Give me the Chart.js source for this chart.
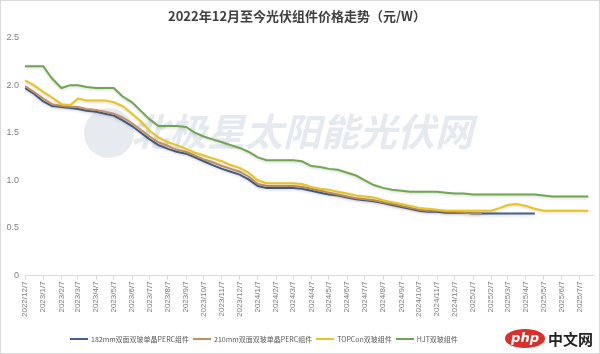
<!DOCTYPE html>
<html>
<head>
<meta charset="utf-8">
<script src="https://cdn.jsdelivr.net/npm/chart.js@4"></script>
<style>
  html, body { margin: 0; padding: 0; background: #fff; }
  #wrap { position: relative; width: 600px; height: 354px; box-sizing: border-box; border: 1px solid #d9d9d9; }
  #legend { position: absolute; left: 69px; top: 333px; display: flex; align-items: center; font: 7px "Noto Sans CJK SC", sans-serif; color: #595959; white-space: nowrap; }
  #legend .item { display: flex; align-items: center; margin-right: 4px; }
  #legend .line { width: 18px; height: 2px; margin-right: 3px; }
  #logo { position: absolute; right: 6px; bottom: 4px; display: flex; align-items: center; font-family: "Noto Sans CJK SC", sans-serif; }
  #logo .php { background: #d9302c; color: #fff; font: italic bold 13px "DejaVu Sans", sans-serif; border-radius: 50%; padding: 1px 6px 3px; }
  #logo .cn { color: #222; font-size: 15px; font-weight: bold; margin-left: 3px; }
</style>
</head>
<body>
<div id="wrap">
  <canvas id="chart" width="598" height="352"></canvas>
  <div id="legend"></div>
  <div id="logo"><span class="php">php</span><span class="cn">中文网</span></div>
</div>
<script>
// ---------- DATA ----------
const dates = [
  "2022/12/7", "2022/12/22", "2023/1/7", "2023/1/22", "2023/2/7", "2023/2/22", "2023/3/7", "2023/3/22",
  "2023/4/7", "2023/4/22", "2023/5/7", "2023/5/22", "2023/6/7", "2023/6/22", "2023/7/7", "2023/7/22",
  "2023/8/7", "2023/8/22", "2023/9/7", "2023/9/22", "2023/10/7", "2023/10/22", "2023/11/7", "2023/11/22",
  "2023/12/7", "2023/12/22", "2024/1/7", "2024/1/22", "2024/2/7", "2024/2/22", "2024/3/7", "2024/3/22",
  "2024/4/7", "2024/4/22", "2024/5/7", "2024/5/22", "2024/6/7", "2024/6/22", "2024/7/7", "2024/7/22",
  "2024/8/7", "2024/8/22", "2024/9/7", "2024/9/22", "2024/10/7", "2024/10/22", "2024/11/7", "2024/11/22",
  "2024/12/7", "2024/12/22", "2025/1/7", "2025/1/22", "2025/2/7", "2025/2/22", "2025/3/7", "2025/3/22",
  "2025/4/7", "2025/4/22", "2025/5/7", "2025/5/22", "2025/6/7", "2025/6/22", "2025/7/7", "2025/7/22"
];

const perc182 = [
  1.97, 1.91, 1.83, 1.78, 1.77, 1.76, 1.75, 1.73, 1.72, 1.70, 1.68, 1.63, 1.57, 1.50, 1.43, 1.37,
  1.33, 1.30, 1.28, 1.24, 1.20, 1.16, 1.12, 1.09, 1.06, 1.01, 0.94, 0.92, 0.92, 0.92, 0.92, 0.91,
  0.89, 0.87, 0.85, 0.84, 0.82, 0.80, 0.79, 0.78, 0.76, 0.74, 0.72, 0.70, 0.68, 0.67, 0.67, 0.66,
  0.66, 0.66, 0.65, 0.65, 0.65, 0.65, 0.65, 0.65, 0.65, 0.65, null, null, null, null, null, null
];

const perc210 = [
  1.99, 1.93, 1.86, 1.80, 1.78, 1.77, 1.77, 1.75, 1.74, 1.72, 1.70, 1.66, 1.60, 1.53, 1.46, 1.40,
  1.36, 1.32, 1.30, 1.26, 1.22, 1.19, 1.15, 1.12, 1.09, 1.04, 0.96, 0.94, 0.94, 0.94, 0.94, 0.93,
  0.91, 0.89, 0.87, 0.85, 0.83, 0.81, 0.80, 0.79, 0.77, 0.75, 0.73, 0.71, 0.69, 0.68, 0.68, 0.67,
  0.67, 0.66, 0.65, 0.65, null, null, null, null, null, null, null, null, null, null, null, null
];

const topcon = [
  2.05, 2.00, 1.93, 1.87, 1.80, 1.79, 1.86, 1.84, 1.84, 1.84, 1.82, 1.78, 1.70, 1.62, 1.52, 1.45,
  1.40, 1.37, 1.33, 1.29, 1.26, 1.23, 1.20, 1.16, 1.13, 1.08, 1.00, 0.97, 0.97, 0.97, 0.97, 0.96,
  0.93, 0.91, 0.90, 0.88, 0.86, 0.84, 0.83, 0.82, 0.79, 0.77, 0.75, 0.73, 0.71, 0.70, 0.69, 0.68,
  0.68, 0.68, 0.68, 0.68, 0.68, 0.71, 0.74, 0.75, 0.73, 0.70, 0.68, 0.68, 0.68, 0.68, 0.68, 0.68
];

const hjt = [
  2.20, 2.20, 2.20, 2.07, 1.97, 2.00, 2.00, 1.98, 1.97, 1.97, 1.97, 1.88, 1.82, 1.73, 1.64, 1.57,
  1.57, 1.57, 1.56, 1.50, 1.46, 1.43, 1.40, 1.37, 1.34, 1.30, 1.24, 1.21, 1.21, 1.21, 1.21, 1.20,
  1.15, 1.14, 1.12, 1.11, 1.08, 1.05, 1.00, 0.95, 0.92, 0.90, 0.89, 0.88, 0.88, 0.88, 0.88, 0.87,
  0.86, 0.86, 0.85, 0.85, 0.85, 0.85, 0.85, 0.85, 0.85, 0.85, 0.84, 0.83, 0.83, 0.83, 0.83, 0.83
];

const tickLabels = [
  "2022/12/7", "2023/1/7", "2023/2/7", "2023/3/7", "2023/4/7", "2023/5/7", "2023/6/7", "2023/7/7",
  "2023/8/7", "2023/9/7", "2023/10/7", "2023/11/7", "2023/12/7", "2024/1/7", "2024/2/7", "2024/3/7",
  "2024/4/7", "2024/5/7", "2024/6/7", "2024/7/7", "2024/8/7", "2024/9/7", "2024/10/7", "2024/11/7",
  "2024/12/7", "2025/1/7", "2025/2/7", "2025/3/7", "2025/4/7", "2025/5/7", "2025/6/7", "2025/7/7"
];

const seriesNames = ["182mm双面双玻单晶PERC组件", "210mm双面双玻单晶PERC组件", "TOPCon双玻组件", "HJT双玻组件"];
const seriesColors = ["#44608f", "#c39160", "#e6c51c", "#71a552"];

// ---------- HELPERS ----------
// days since the first date, so the x axis behaves like a date axis
function toDay(s) {
  const [y, m, d] = s.split("/").map(Number);
  return (Date.UTC(y, m - 1, d) - Date.UTC(2022, 11, 7)) / 864e5;
}
const tickDays = tickLabels.map(toDay);
const lastDay = toDay(dates[dates.length - 1]);

function points(values) {
  return dates.map((d, i) => ({ x: toDay(d), y: values[i] }));
}

// soft glow under each line, like the Excel effect
const glowPlugin = {
  id: "glow",
  beforeDatasetDraw(chart) {
    const ctx = chart.ctx;
    ctx.save();
    ctx.shadowColor = "rgba(0,0,0,0.18)";
    ctx.shadowBlur = 3;
    ctx.shadowOffsetY = 1;
  },
  afterDatasetDraw(chart) {
    chart.ctx.restore();
  },
};

// faint site watermark behind the lines
const watermarkPlugin = {
  id: "watermark",
  beforeDatasetsDraw(chart) {
    const ctx = chart.ctx;
    ctx.save();
    ctx.fillStyle = "rgba(200,210,222,0.45)";
    ctx.beginPath();
    ctx.arc(108, 132, 25, 0, Math.PI * 2);
    ctx.fill();
    ctx.font = "italic bold 38px 'Noto Sans CJK SC'";
    ctx.fillStyle = "rgba(208,216,227,0.55)";
    ctx.textBaseline = "middle";
    ctx.fillText("北极星太阳能光伏网", 130, 131);
    ctx.restore();
  },
};

// ---------- LEGEND (html, placed like the original) ----------
const legendEl = document.getElementById("legend");
seriesNames.forEach((name, i) => {
  const item = document.createElement("span");
  item.className = "item";
  item.innerHTML = `<span class="line" style="background:${seriesColors[i]}"></span>${name}`;
  legendEl.appendChild(item);
});

// ---------- CHART ----------
const ctx = document.getElementById("chart").getContext("2d");

const chart = new Chart(ctx, {
  type: "line",
  data: {
    datasets: [perc182, perc210, topcon, hjt].map((vals, i) => ({
      label: seriesNames[i],
      data: points(vals),
      borderColor: seriesColors[i],
      backgroundColor: seriesColors[i],
      borderWidth: 2,
      pointRadius: 0,
      tension: 0,
      fill: false,
      order: 4 - i,
    })),
  },
  options: {
    responsive: false,
    animation: false,
    layout: { padding: { left: 0, right: 6, top: 0, bottom: 34 } },
    plugins: {
      title: {
        display: true,
        text: "2022年12月至今光伏组件价格走势（元/W）",
        color: "#404040",
        font: { size: 13, weight: "bold", family: "'Noto Sans CJK SC'" },
        padding: { top: 7, bottom: 14 },
      },
      legend: { display: false },
      tooltip: { enabled: false },
    },
    scales: {
      x: {
        type: "linear",
        min: 0,
        max: lastDay + 8,
        afterBuildTicks(axis) {
          axis.ticks = tickDays.map((v) => ({ value: v }));
        },
        afterFit(axis) {
          axis.paddingLeft = 0;
          axis.paddingRight = 0;
        },
        ticks: {
          autoSkip: false,
          minRotation: 90,
          maxRotation: 90,
          color: "#7f7f7f",
          font: { size: 8, family: "'Liberation Sans'" },
          padding: 2,
          callback: (v) => tickLabels[tickDays.indexOf(v)] || "",
        },
        grid: { drawOnChartArea: false, color: "#d9d9d9", tickLength: 4 },
        border: { color: "#d9d9d9" },
      },
      y: {
        min: 0,
        max: 2.5,
        afterFit(axis) {
          axis.width = 24;
        },
        ticks: {
          stepSize: 0.5,
          color: "#7f7f7f",
          font: { size: 9, family: "'Liberation Sans'" },
          padding: 6,
        },
        grid: { display: false, drawTicks: false },
        border: { display: false },
      },
    },
  },
  plugins: [watermarkPlugin, glowPlugin],
});
</script>
</body>
</html>
